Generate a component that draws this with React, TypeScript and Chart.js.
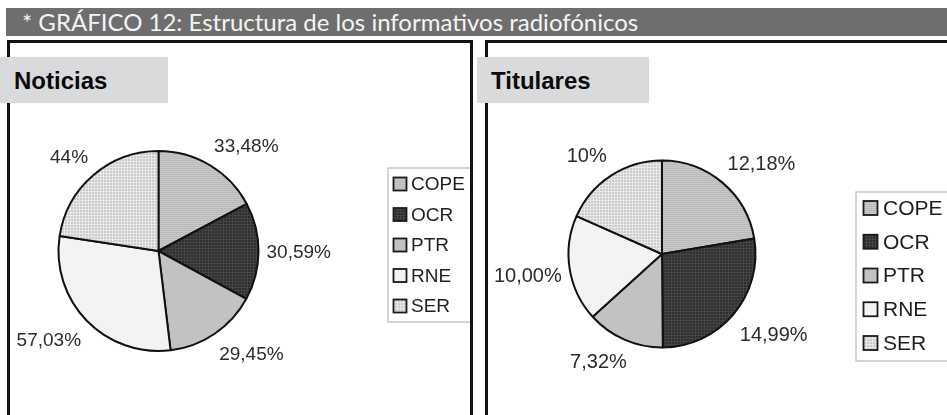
import React, { useEffect, useRef } from 'react';
import { Chart, registerables } from 'chart.js';
Chart.register(...registerables);

const categories = ['COPE', 'OCR', 'PTR', 'RNE', 'SER'];
const noticiasValues = [33.48, 30.59, 29.45, 57.03, 44];
const noticiasLabels = ['33,48%', '30,59%', '29,45%', '57,03%', '44%'];
const titularesValues = [12.18, 14.99, 7.32, 10.0, 10];
const titularesLabels = ['12,18%', '14,99%', '7,32%', '10,00%', '10%'];
const titleText = '* GRÁFICO 12: Estructura de los informativos radiofónicos';
const panelTitles = ['Noticias', 'Titulares'];

function makePattern(bg: string, line: string, step: number, mode: string) {
  const c = document.createElement('canvas');
  c.width = step;
  c.height = step;
  const g = c.getContext('2d')!;
  g.fillStyle = bg;
  g.fillRect(0, 0, step, step);
  g.fillStyle = line;
  if (mode.includes('h')) g.fillRect(0, 0, step, 1);
  if (mode.includes('v')) g.fillRect(0, 0, 1, step);
  return g.createPattern(c, 'repeat') as CanvasPattern;
}

function sliceColors() {
  return [
    makePattern('#c8c8c8', '#bababa', 2, 'h'),
    makePattern('#2e2e2e', '#444444', 3, 'hv'),
    '#c2c2c2',
    '#f3f3f3',
    makePattern('#cbcbcb', '#e8e8e8', 3, 'hv'),
  ];
}

const clamp = (v: number) => Math.max(-1, Math.min(1, v));

type Cfg = {
  values: number[];
  labels: string[];
  width: number;
  height: number;
  padding: { left: number; right: number; top: number; bottom: number };
  labelFont: number;
  labelGap: number;
  labelDy: number;
  legend: { x: number; y: number; w: number; h: number; row0: number; rowH: number; box: number; boxX: number; textX: number; font: number };
};

function PieChart({ cfg }: { cfg: Cfg }) {
  const ref = useRef<HTMLCanvasElement>(null);
  useEffect(() => {
    const colors = sliceColors();
    const labelPlugin = {
      id: 'outLabels',
      afterDatasetsDraw(chart: any) {
        const ctx = chart.ctx;
        const meta = chart.getDatasetMeta(0);
        ctx.save();
        ctx.font = `${cfg.labelFont}px "Liberation Sans", Arial, sans-serif`;
        ctx.fillStyle = '#2b2b2b';
        ctx.textAlign = 'left';
        ctx.textBaseline = 'alphabetic';
        const h = cfg.labelFont * 0.72;
        meta.data.forEach((arc: any, i: number) => {
          const p = arc.getProps(['x', 'y', 'startAngle', 'endAngle', 'outerRadius'], true);
          const mid = (p.startAngle + p.endAngle) / 2;
          const rr = p.outerRadius + cfg.labelGap;
          const px = p.x + Math.cos(mid) * rr;
          const py = p.y + Math.sin(mid) * rr;
          const text = cfg.labels[i];
          const w = ctx.measureText(text).width;
          const cx = clamp(2 * Math.cos(mid));
          const cy = clamp(2 * Math.sin(mid));
          const left = px - (w / 2) * (1 - cx);
          const top = py - (h / 2) * (1 - cy) + cy * cfg.labelDy;
          ctx.fillText(text, left, top + h);
        });
        ctx.restore();
      },
    };
    const legendPlugin = {
      id: 'boxLegend',
      afterDraw(chart: any) {
        const ctx = chart.ctx;
        const L = cfg.legend;
        const ds = chart.data.datasets[0];
        ctx.save();
        ctx.strokeStyle = '#c8c8c8';
        ctx.lineWidth = 1.5;
        ctx.strokeRect(L.x, L.y, L.w, L.h);
        ctx.font = `${L.font}px "Liberation Sans", Arial, sans-serif`;
        ctx.textBaseline = 'middle';
        ctx.textAlign = 'left';
        chart.data.labels.forEach((lab: string, i: number) => {
          const cy = L.row0 + i * L.rowH;
          ctx.fillStyle = ds.backgroundColor[i];
          ctx.fillRect(L.boxX, cy - L.box / 2, L.box, L.box);
          ctx.strokeStyle = '#1a1a1a';
          ctx.lineWidth = 1.8;
          ctx.strokeRect(L.boxX, cy - L.box / 2, L.box, L.box);
          ctx.fillStyle = '#1e1e1e';
          ctx.fillText(lab, L.textX, cy + 1);
        });
        ctx.restore();
      },
    };
    const chart = new Chart(ref.current!, {
      type: 'pie',
      data: {
        labels: categories,
        datasets: [
          {
            data: cfg.values,
            backgroundColor: colors as any,
            borderColor: '#111111',
            borderWidth: 2,
          },
        ],
      },
      options: {
        responsive: false,
        animation: false,
        devicePixelRatio: 1,
        layout: { padding: cfg.padding },
        plugins: { legend: { display: false }, tooltip: { enabled: false } },
      },
      plugins: [labelPlugin, legendPlugin],
    });
    return () => chart.destroy();
  }, [cfg]);
  return <canvas ref={ref} width={cfg.width} height={cfg.height} style={{ display: 'block', width: cfg.width, height: cfg.height }} />;
}

const leftCfg: Cfg = {
  values: noticiasValues,
  labels: noticiasLabels,
  width: 460,
  height: 371,
  padding: { left: 47.5, right: 210.5, top: 106, bottom: 63 },
  labelFont: 19,
  labelGap: 8,
  labelDy: 6,
  legend: { x: 378, y: 124, w: 100, h: 154, row0: 140, rowH: 30.5, box: 13, boxX: 383.5, textX: 401, font: 19 },
};

const rightCfg: Cfg = {
  values: titularesValues,
  labels: titularesLabels,
  width: 459,
  height: 371,
  padding: { left: 79.5, right: 190.5, top: 115.5, bottom: 66.5 },
  labelFont: 20,
  labelGap: 8,
  labelDy: 7,
  legend: { x: 368, y: 148, w: 100, h: 169, row0: 164, rowH: 33.75, box: 14, boxX: 375.5, textX: 395, font: 21 },
};

const labelBox = (left: number, width: number, text: string) => (
  <div
    style={{
      position: 'absolute',
      left,
      top: 57,
      width,
      height: 46,
      background: '#d9dadb',
      zIndex: 3,
    }}
  >
    <span
      style={{
        position: 'absolute',
        left: 14,
        top: 1,
        fontFamily: '"Liberation Sans", Arial, sans-serif',
        fontWeight: 'bold',
        fontSize: 24,
        lineHeight: '46px',
        color: '#0a0a0a',
        whiteSpace: 'nowrap',
      }}
    >
      {text}
    </span>
  </div>
);

export default function App() {
  return (
    <div style={{ position: 'fixed', left: 0, top: 0, width: 947, height: 415, background: '#fff', overflow: 'hidden' }}>
      <div style={{ position: 'absolute', left: 6, top: 8, width: 941, height: 28, background: '#6e6e6e' }}>
        <span
          style={{
            position: 'absolute',
            left: 16,
            top: 0,
            fontFamily: 'Lato, "Open Sans", sans-serif',
            fontWeight: 400,
            fontSize: 24,
            lineHeight: '28px',
            color: '#f4f4f4',
            whiteSpace: 'nowrap',
          }}
        >
          {titleText}
        </span>
      </div>
      <div style={{ position: 'absolute', left: 7, top: 40, width: 466, height: 400, border: '3px solid #111', boxSizing: 'border-box', zIndex: 2, pointerEvents: 'none' }} />
      <div style={{ position: 'absolute', left: 485, top: 40, width: 480, height: 400, border: '3px solid #111', boxSizing: 'border-box', zIndex: 2, pointerEvents: 'none' }} />
      {labelBox(0, 168, panelTitles[0])}
      {labelBox(477, 172, panelTitles[1])}
      <div style={{ position: 'absolute', left: 10, top: 44 }}>
        <PieChart cfg={leftCfg} />
      </div>
      <div style={{ position: 'absolute', left: 488, top: 44 }}>
        <PieChart cfg={rightCfg} />
      </div>
    </div>
  );
}
